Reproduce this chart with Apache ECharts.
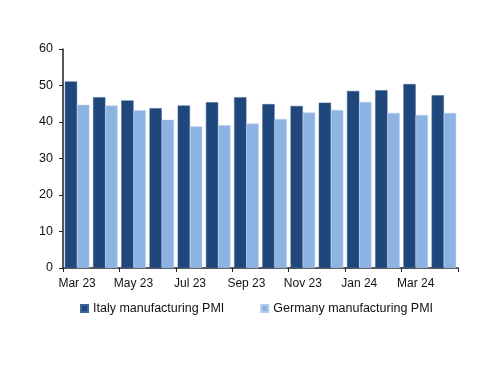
<!DOCTYPE html>
<html><head><meta charset="utf-8">
<script src="https://cdn.jsdelivr.net/npm/echarts@6/dist/echarts.min.js"></script>
<style>html,body{margin:0;padding:0;background:#fff}#c{width:500px;height:386px}</style>
</head><body><div id="c"></div>
<script>
const categories = ['Mar 23','Apr 23','May 23','Jun 23','Jul 23','Aug 23','Sep 23','Oct 23','Nov 23','Dec 23','Jan 24','Feb 24','Mar 24','Apr 24'];
const italy = [51.1, 46.8, 45.9, 43.8, 44.5, 45.4, 46.8, 44.9, 44.4, 45.3, 48.5, 48.7, 50.4, 47.3];
const germany = [44.7, 44.5, 43.2, 40.6, 38.8, 39.1, 39.6, 40.8, 42.6, 43.3, 45.5, 42.5, 41.9, 42.5];
const yTicks = {min: 0, max: 60, interval: 10};
const font = 'Liberation Sans';
const chart = echarts.init(document.getElementById('c'), null, {renderer: 'canvas'});
chart.setOption({
  animation: false,
  grid: {left: 63, right: 42, top: 49, bottom: 118, containLabel: false},
  legend: {
    top: 297, left: 75, itemWidth: 7, itemHeight: 7, itemGap: 36, icon: 'rect',
    textStyle: {fontFamily: font, fontSize: 12.5, color: '#111'},
    data: ['Italy manufacturing PMI', 'Germany manufacturing PMI']
  },
  xAxis: {
    type: 'category', data: categories, boundaryGap: true,
    axisLine: {lineStyle: {color: '#222', width: 1.5}},
    axisTick: {show: true, length: 4, inside: false, lineStyle: {color: '#222'}},
    axisLabel: {interval: 1, fontFamily: font, fontSize: 12, color: '#111', margin: 10}
  },
  yAxis: {
    type: 'value', min: yTicks.min, max: yTicks.max, interval: yTicks.interval,
    axisLine: {show: true, lineStyle: {color: '#222', width: 1.5}},
    axisTick: {show: true, length: 4, lineStyle: {color: '#222'}},
    splitLine: {show: false},
    axisLabel: {fontFamily: font, fontSize: 12.5, color: '#111', margin: 10}
  },
  series: [
    {name: 'Italy manufacturing PMI', type: 'bar', data: italy, barGap: '0%', barCategoryGap: '13%',
     itemStyle: {color: '#1f477c', borderColor: '#3d6499', borderWidth: 0.5}},
    {name: 'Germany manufacturing PMI', type: 'bar', data: germany, barGap: '0%', barCategoryGap: '13%',
     itemStyle: {color: '#8db3e2', borderColor: '#b4cdec', borderWidth: 0.5}}
  ]
});
</script></body></html>
